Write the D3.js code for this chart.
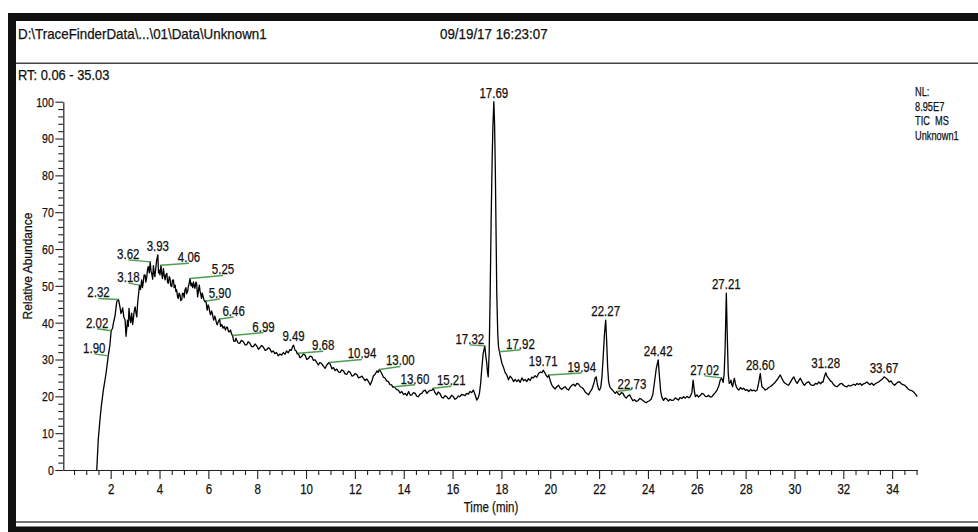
<!DOCTYPE html>
<html>
<head>
<meta charset="utf-8">
<script src="https://cdn.jsdelivr.net/npm/d3@7/dist/d3.min.js"></script>
<style>
  html, body { margin: 0; padding: 0; background: #fff; }
  svg { display: block; }
  .narrow, .reg { font-family: 'Liberation Sans', Arial, Helvetica, sans-serif; stroke: #111; stroke-width: 0.25px; }
</style>
</head>
<body>
<svg id="chart" width="978" height="532"></svg>
<script>
// ---- Header strings ----
const headerPath = "D:\\TraceFinderData\\...\\01\\Data\\Unknown1";
const headerDate = "09/19/17 16:23:07";
const rangeText = "RT: 0.06 - 35.03";
const infoLines = ["NL:", "8.95E7", "TIC  MS", "Unknown1"];
const xTitle = "Time (min)";
const yTitle = "Relative Abundance";

// ---- Axis ticks ----
const xTickLabels = [2, 4, 6, 8, 10, 12, 14, 16, 18, 20, 22, 24, 26, 28, 30, 32, 34];
const yTickLabels = [0, 10, 20, 30, 40, 50, 60, 70, 80, 90, 100];

// ---- TIC trace: retention time (min) ----
const rtMin = [
1.43,1.49,1.56,1.62,1.70,1.81,1.90,1.97,2.02,2.08,2.11,2.15,2.18,2.25,2.32,2.38,2.42,2.45,2.49,2.54,
2.59,2.63,2.66,2.69,2.72,2.75,2.79,2.82,2.86,2.90,2.92,2.96,3.00,3.04,3.07,3.10,3.13,3.18,3.22,3.27,
3.30,3.33,3.37,3.41,3.44,3.47,3.51,3.54,3.58,3.62,3.65,3.68,3.72,3.75,3.78,3.81,3.85,3.88,3.93,3.96,
3.98,4.02,4.06,4.09,4.12,4.16,4.20,4.23,4.26,4.30,4.33,4.36,4.40,4.43,4.46,4.50,4.53,4.57,4.60,4.64,
4.67,4.70,4.74,4.77,4.80,4.84,4.87,4.91,4.94,4.98,5.01,5.04,5.08,5.11,5.15,5.18,5.21,5.25,5.29,5.32,
5.36,5.39,5.42,5.45,5.49,5.52,5.56,5.60,5.63,5.66,5.68,5.72,5.75,5.79,5.83,5.86,5.90,5.93,5.95,5.99,
6.02,6.06,6.09,6.13,6.16,6.19,6.22,6.26,6.29,6.33,6.36,6.40,6.46,6.50,6.55,6.60,6.65,6.70,6.74,6.78,
6.83,6.87,6.91,6.94,6.99,7.04,7.09,7.13,7.16,7.22,7.29,7.35,7.43,7.50,7.57,7.63,7.70,7.77,7.84,7.91,
7.98,8.05,8.11,8.18,8.25,8.32,8.39,8.46,8.52,8.59,8.66,8.72,8.79,8.86,8.93,9.00,9.07,9.14,9.20,9.27,
9.34,9.40,9.45,9.49,9.55,9.60,9.64,9.68,9.75,9.82,9.89,9.96,10.03,10.10,10.16,10.23,10.30,10.37,10.44,10.50,
10.57,10.64,10.71,10.78,10.85,10.94,11.00,11.06,11.12,11.19,11.26,11.33,11.40,11.46,11.53,11.60,11.67,11.74,11.81,11.88,
11.94,12.01,12.08,12.15,12.22,12.29,12.35,12.42,12.49,12.56,12.63,12.70,12.76,12.83,12.90,12.95,13.00,13.05,13.10,13.17,
13.24,13.30,13.37,13.44,13.51,13.55,13.60,13.65,13.71,13.78,13.85,13.92,13.99,14.06,14.13,14.20,14.27,14.33,14.40,14.47,
14.54,14.60,14.67,14.74,14.81,14.88,14.95,15.01,15.08,15.15,15.21,15.28,15.35,15.41,15.48,15.55,15.62,15.69,15.76,15.83,
15.89,15.96,16.03,16.10,16.17,16.24,16.30,16.37,16.44,16.51,16.58,16.65,16.71,16.78,16.85,16.92,16.99,17.05,17.10,17.15,
17.19,17.25,17.32,17.36,17.40,17.43,17.46,17.50,17.54,17.58,17.62,17.65,17.69,17.72,17.75,17.78,17.81,17.85,17.88,17.92,
17.97,18.02,18.08,18.15,18.22,18.29,18.36,18.43,18.50,18.56,18.63,18.70,18.77,18.84,18.91,18.97,19.04,19.11,19.18,19.24,
19.31,19.38,19.45,19.52,19.60,19.66,19.71,19.78,19.85,19.90,19.94,20.01,20.07,20.14,20.20,20.27,20.34,20.41,20.48,20.55,
20.61,20.68,20.75,20.82,20.89,20.95,21.02,21.09,21.16,21.23,21.30,21.36,21.43,21.50,21.57,21.64,21.71,21.78,21.84,21.88,
21.93,21.98,22.02,22.07,22.12,22.17,22.22,22.27,22.31,22.35,22.39,22.44,22.50,22.55,22.61,22.66,22.73,22.79,22.84,22.91,
22.98,23.04,23.11,23.18,23.25,23.32,23.38,23.45,23.52,23.59,23.66,23.72,23.79,23.86,23.93,24.00,24.06,24.13,24.20,24.27,
24.34,24.42,24.47,24.52,24.57,24.64,24.70,24.77,24.84,24.90,24.97,25.05,25.12,25.18,25.25,25.32,25.39,25.46,25.53,25.60,
25.67,25.73,25.80,25.85,25.90,25.94,26.01,26.07,26.14,26.21,26.28,26.35,26.41,26.48,26.55,26.62,26.69,26.76,26.83,26.90,
26.96,27.02,27.08,27.12,27.16,27.21,27.25,27.29,27.33,27.37,27.40,27.44,27.47,27.50,27.54,27.58,27.62,27.67,27.72,27.79,
27.86,27.92,27.99,28.06,28.13,28.20,28.26,28.33,28.40,28.47,28.53,28.60,28.64,28.67,28.74,28.81,28.88,28.94,29.01,29.08,
29.15,29.22,29.29,29.36,29.42,29.49,29.56,29.63,29.70,29.76,29.83,29.90,29.97,30.04,30.11,30.17,30.24,30.31,30.38,30.41,
30.48,30.55,30.59,30.66,30.72,30.79,30.86,30.93,31.00,31.07,31.13,31.17,31.22,31.28,31.33,31.40,31.47,31.53,31.60,31.67,
31.74,31.81,31.87,31.94,32.01,32.08,32.15,32.22,32.28,32.35,32.42,32.49,32.56,32.62,32.69,32.76,32.83,32.90,32.97,33.04,
33.10,33.17,33.24,33.31,33.38,33.45,33.52,33.60,33.67,33.74,33.81,33.88,33.95,34.02,34.10,34.17,34.24,34.31,34.38,34.45,
34.51,34.58,34.65,34.72,34.79,34.86,34.93,35.00,35.03
];

// ---- TIC trace: relative abundance (%) ----
const abundance = [
0,8.1,13.6,17.5,21.7,26.2,31.0,34.0,37.8,38.5,39.8,41.0,42.0,45.7,46.3,44.3,42.5,43.0,44.0,41.5,
40.7,36.3,38.5,40.7,39.0,43.9,41.0,40.0,42.6,39.5,40.5,43.0,44.3,42.5,41.6,45.0,47.0,50.2,49.0,51.6,
49.5,50.7,53.0,52.9,51.0,52.0,54.5,55.2,53.5,56.5,54.0,53.4,51.8,55.5,53.5,52.5,55.0,56.8,58.4,53.5,
54.3,53.0,55.6,53.4,52.0,54.7,52.5,51.6,53.0,53.4,51.0,50.7,52.5,52.0,50.0,49.8,51.5,51.6,49.5,50.2,
48.5,48.9,47.0,46.6,48.0,47.5,46.0,46.3,48.0,47.9,46.8,48.9,49.5,47.9,48.5,49.8,50.5,52.0,50.0,50.7,
49.5,51.1,50.0,49.3,51.0,50.7,47.0,49.0,50.2,48.5,48.0,46.6,48.0,47.0,46.0,45.7,45.9,44.5,43.4,44.8,
44.3,42.8,42.1,43.2,42.6,41.5,40.7,41.8,41.2,40.0,39.4,40.2,41.0,39.0,39.5,38.5,39.0,38.0,38.8,38.7,
37.5,37.6,38.0,37.1,36.5,35.0,34.9,35.8,35.3,34.5,34.4,35.2,34.9,34.0,34.0,34.8,34.4,33.5,33.5,34.2,
33.7,32.8,33.2,33.8,33.4,32.5,32.7,33.2,32.9,32.0,32.3,31.6,31.9,31.0,31.5,31.2,31.9,31.4,32.3,31.8,
32.7,32.5,33.5,33.9,32.5,32.3,31.5,31.7,30.5,30.8,31.5,31.2,30.0,30.3,30.9,30.8,29.8,29.9,29.2,28.5,
29.2,28.9,28.2,27.6,28.5,29.2,28.6,27.5,27.8,27.0,27.4,26.6,26.5,27.2,26.9,26.1,26.0,26.8,26.5,25.5,
25.6,26.2,25.9,25.0,25.2,25.5,24.9,24.3,24.7,24.0,23.1,24.2,25.6,26.0,26.9,26.5,27.3,26.8,26.2,25.2,
24.9,24.2,24.0,23.2,23.1,22.5,22.6,22.3,21.8,21.7,20.9,21.3,20.5,20.8,20.2,21.3,20.3,20.4,21.0,20.8,
20.0,19.9,20.6,20.8,21.5,21.7,20.8,21.3,21.6,21.6,22.2,21.0,20.4,21.2,20.8,19.8,19.5,20.2,19.9,19.3,
19.5,20.3,19.9,19.2,19.5,20.1,19.9,20.5,20.4,20.2,20.8,20.6,21.3,21.0,21.7,20.5,19.0,19.6,20.8,23.5,
27.0,31.5,33.7,31.0,29.0,26.5,25.3,32.0,48.0,68.0,84.0,93.0,100,94.0,82.0,65.0,48.0,37.0,33.5,32.1,
30.5,29.0,28.0,26.5,25.8,24.5,25.5,24.9,24.0,24.6,24.0,24.5,23.8,25.0,24.2,24.6,24.0,24.8,24.3,25.2,
25.0,25.6,25.2,26.2,26.6,26.4,27.1,26.4,25.5,25.2,25.8,24.0,23.0,22.4,22.0,22.6,23.0,22.2,21.9,22.4,
22.6,22.0,21.7,22.5,23.0,23.3,22.8,23.5,23.3,22.6,22.4,22.0,21.2,20.8,20.4,21.3,22.0,23.4,25.0,25.3,
23.2,21.9,21.7,22.5,25.5,31.0,37.0,40.7,35.0,28.0,24.0,22.6,22.0,21.7,21.2,20.8,21.3,20.6,20.4,21.0,
20.8,20.0,19.5,20.1,20.4,19.5,18.8,19.1,18.6,18.8,19.4,19.3,18.9,18.5,18.3,18.6,18.8,19.2,20.5,23.9,
27.5,29.9,25.5,21.5,19.8,18.9,19.5,19.3,18.7,19.2,18.9,19.0,19.6,19.3,19.0,19.7,19.4,19.9,19.5,20.0,
19.6,19.9,21.0,24.4,21.5,19.9,20.4,19.8,20.2,20.8,20.6,20.0,19.9,20.3,19.8,19.9,20.5,21.0,21.7,22.8,
24.4,25.0,23.8,26.0,33.0,48.0,36.0,26.0,23.5,23.8,24.4,23.0,22.6,23.8,24.9,23.5,22.6,22.0,21.7,22.4,
21.9,22.2,21.6,21.8,21.3,21.9,21.5,21.7,21.4,21.7,23.5,26.2,24.0,22.6,22.2,21.7,22.0,22.4,22.6,23.0,
23.4,23.9,24.5,25.2,25.8,24.8,23.9,23.5,23.2,23.0,23.8,24.6,25.3,24.2,23.5,24.2,24.9,24.0,23.2,23.0,
23.6,23.9,23.9,23.2,23.0,23.0,23.5,23.3,23.9,23.4,23.9,23.9,25.2,26.4,25.5,24.9,24.2,23.9,23.2,22.8,
22.6,23.0,23.4,23.5,23.0,22.7,22.6,23.0,22.8,23.0,23.3,23.0,23.5,23.2,23.5,23.0,23.4,23.6,23.9,23.4,
23.2,23.6,23.0,23.4,23.7,23.9,24.3,24.7,25.3,25.0,24.6,23.9,24.2,23.5,23.0,23.5,23.9,23.9,23.4,23.2,
23.0,22.6,22.0,21.7,21.6,21.3,20.8,20.2,19.9
];

// ---- Labelled peaks (retention time, min) ----
const peakRt = [1.90, 2.02, 2.32, 3.18, 3.62, 3.93, 4.06, 5.25, 5.90, 6.46, 6.99, 9.49, 9.68, 10.94,
                13.00, 13.60, 15.21, 17.32, 17.69, 17.92, 19.71, 19.94, 22.27, 22.73, 24.42, 27.02,
                27.21, 28.60, 31.28, 33.67];

// Label placement relative to each apex, in px [dx, dy]; dx = 0 means the label sits above the apex
const labelLayout = [[-14,-2],[-14,-2],[-20,-1],[-11,-2],[-22,-2],[0,-4],[28,-2],[33,-3],[14,-2],[14,-2],
                     [31,-3],[0,-4],[25,-2],[33,-3],[21,-3],[21,-2],[18,-2],[-15,-1],[0,-4],[21,-2],
                     [0,-4],[33,-2],[0,-4],[15,-2],[0,-4],[-17,-2],[0,-4],[0,-4],[0,-5],[0,-4]];

// Squeeze a text selection horizontally to mimic a condensed face
function condense(sel, k) {
  sel.each(function () {
    const w = this.getComputedTextLength();
    if (w > 0) {
      this.setAttribute("textLength", (w * k).toFixed(2));
      this.setAttribute("lengthAdjust", "spacingAndGlyphs");
    }
  });
}

const svg = d3.select("#chart");
svg.append("rect").attr("width", 978).attr("height", 532).attr("fill", "#fff");

// ---- Window frame ----
svg.append("rect").attr("x", 8).attr("y", 13).attr("width", 970).attr("height", 8).attr("fill", "#111");
svg.append("rect").attr("x", 8).attr("y", 13).attr("width", 8).attr("height", 519).attr("fill", "#111");
svg.append("rect").attr("x", 8).attr("y", 526.5).attr("width", 970).attr("height", 6).attr("fill", "#111");
svg.append("line").attr("x1", 16).attr("x2", 978).attr("y1", 63.2).attr("y2", 63.2)
  .attr("stroke", "#444").attr("stroke-width", 1.6);
svg.append("line").attr("x1", 16).attr("x2", 978).attr("y1", 522).attr("y2", 522)
  .attr("stroke", "#444").attr("stroke-width", 1.6);

// ---- Header ----
const head = svg.append("g").attr("class", "reg").attr("fill", "#111");
head.append("text").attr("x", 18).attr("y", 38.5).attr("font-size", 14.5).text(headerPath);
head.append("text").attr("x", 440).attr("y", 38.5).attr("font-size", 14.5).text(headerDate);
head.append("text").attr("x", 18).attr("y", 80).attr("font-size", 14).text(rangeText);
condense(head.selectAll("text"), 0.92);

const info = svg.append("g").selectAll("text").data(infoLines).join("text")
  .attr("class", "narrow").attr("x", 915).attr("y", (d, i) => 96 + i * 14.5)
  .attr("font-size", 12).attr("fill", "#111").attr("xml:space", "preserve").text(d => d);
condense(info, 0.77);

// ---- Scales ----
const x = d3.scaleLinear().domain([0.06, 35.03]).range([63.3, 917.3]);
const y = d3.scaleLinear().domain([0, 100]).range([470, 101.7]);

// ---- Axes ----
const xMinor = d3.range(0.5, 35.01, 0.5).filter(v => v % 2 !== 0);
const yMinor = d3.range(0, 100.1, 2).filter(v => v % 10 !== 0);

const gx = svg.append("g").attr("transform", "translate(0,470)");
gx.call(d3.axisBottom(x).tickValues(xTickLabels).tickSize(9).tickSizeOuter(0).tickPadding(5)
  .tickFormat(d3.format("d")));
gx.append("g").call(d3.axisBottom(x).tickValues(xMinor).tickSize(5).tickSizeOuter(0).tickFormat(""))
  .select(".domain").remove();

const gy = svg.append("g").attr("transform", "translate(63.3,0)");
gy.call(d3.axisLeft(y).tickValues(yTickLabels).tickSize(8).tickSizeOuter(0).tickPadding(1.5)
  .tickFormat(d3.format("d")));
gy.append("g").call(d3.axisLeft(y).tickValues(yMinor).tickSize(5).tickSizeOuter(0).tickFormat(""))
  .select(".domain").remove();

svg.selectAll(".domain").attr("stroke", "#222").attr("stroke-width", 1.2);
svg.selectAll(".tick line").attr("stroke", "#222").attr("stroke-width", 1.1);
gx.selectAll(".tick text").attr("class", "narrow").attr("font-size", 14).attr("fill", "#111");
gy.selectAll(".tick text").attr("class", "narrow").attr("font-size", 13.5).attr("fill", "#111");
condense(gx.selectAll(".tick text"), 0.82);
condense(gy.selectAll(".tick text"), 0.78);

const xt = svg.append("text").attr("class", "narrow").attr("x", 491).attr("y", 512)
  .attr("text-anchor", "middle").attr("font-size", 14).attr("fill", "#111").text(xTitle);
condense(xt, 0.82);
svg.append("text").attr("class", "reg").attr("transform", "translate(32,266) rotate(-90)")
  .attr("text-anchor", "middle").attr("font-size", 12).attr("fill", "#111").text(yTitle);

// ---- Trace ----
const points = rtMin.map((t, i) => [t, abundance[i]]);
svg.append("path").datum(points)
  .attr("d", d3.line().x(d => x(d[0])).y(d => y(d[1])))
  .attr("fill", "none").attr("stroke", "#000").attr("stroke-width", 1.3)
  .attr("stroke-linejoin", "round");

// ---- Peak labels with leader lines ----
const gLab = svg.append("g");
peakRt.forEach((rt, i) => {
  const idx = d3.minIndex(rtMin, t => Math.abs(t - rt));
  const ax = x(rt), ay = y(abundance[idx]);
  const [dx, dy] = labelLayout[i];
  let tx = ax, ty = ay + dy;
  if (dx !== 0) {
    gLab.append("line").attr("x1", ax).attr("y1", ay).attr("x2", ax + dx).attr("y2", ay + dy)
      .attr("stroke", "#4e9e4e").attr("stroke-width", 1.4);
    tx = ax + dx; ty = ay + dy - 1;
  }
  gLab.append("text").attr("class", "narrow").attr("x", tx).attr("y", ty)
    .attr("text-anchor", "middle").attr("font-size", 14).attr("fill", "#111")
    .text(rt.toFixed(2));
});
condense(gLab.selectAll("text"), 0.82);
</script>
</body>
</html>
